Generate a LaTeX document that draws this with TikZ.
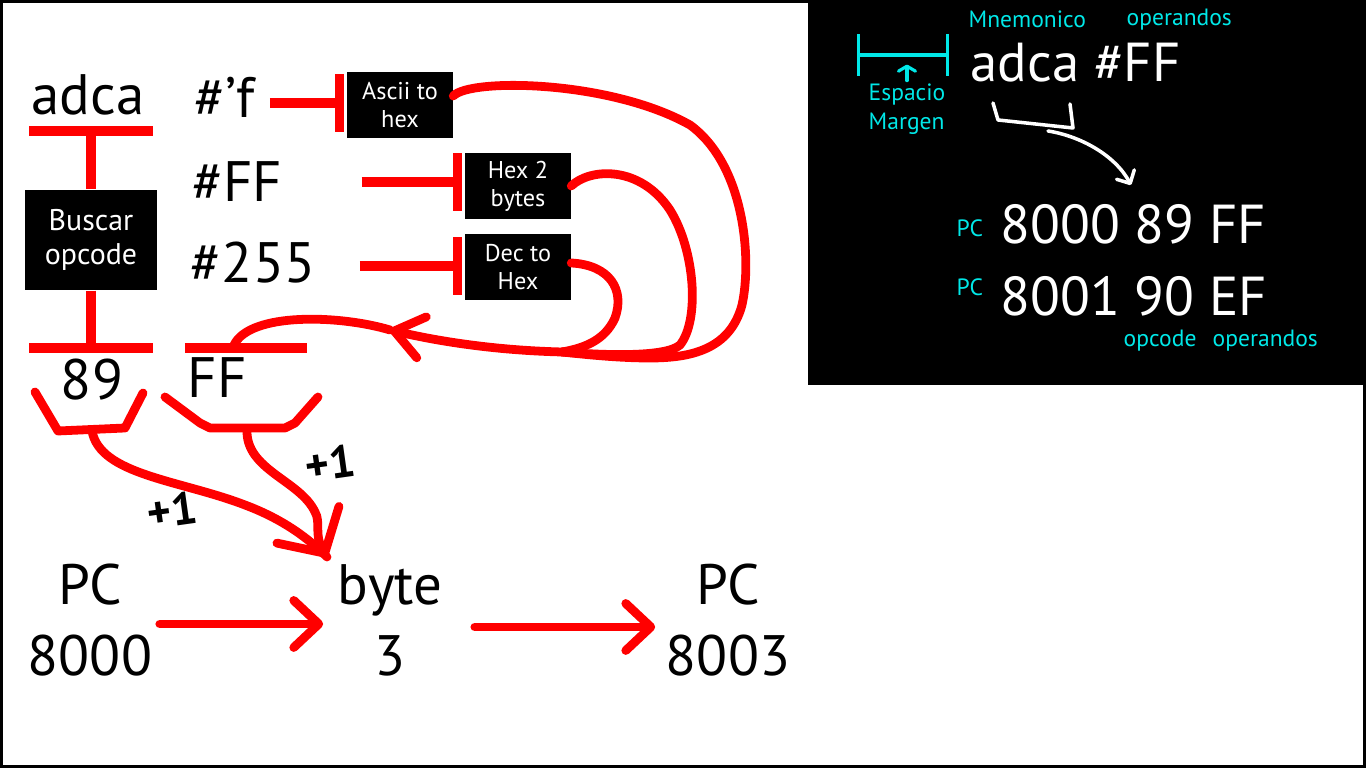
\documentclass[tikz,border=0pt]{standalone}
\usepackage{fontspec}
\setmainfont{PT Sans}
\usepackage{tikz}
\usetikzlibrary{positioning, arrows.meta}
\definecolor{aqua}{RGB}{0,232,232}

\begin{document}
\begin{tikzpicture}[
        x=0.01cm, y=-0.01cm,
        big/.style={font=\fontsize{16.2}{20.2}\selectfont, inner sep=0pt},
        wbig/.style={font=\fontsize{15.6}{18}\selectfont, inner sep=0pt, text=white},
        lbl/.style={font=\fontsize{6.7}{8}\selectfont, text=aqua, inner sep=0pt},
        box/.style={rectangle, fill=black, text=white, align=center, inner sep=1pt},
        convbox/.style={box, minimum width=1.05cm, minimum height=0.66cm, font=\fontsize{6.9}{8}\selectfont},
        redline/.style={red, line width=2.8pt},
        curve/.style={red, line width=2.5pt, line cap=round, line join=round},
        tbar/.style={red, line width=2.8pt, -{Bar[width=0.58cm, line width=2.4pt]}},
        head/.style={-{Straight Barb[length=0.25cm, width=0.47cm, round]}},
        plus/.style={font=\bfseries\fontsize{13}{14}\selectfont, inner sep=0pt},
        wline/.style={white, line width=1pt, line cap=round, line join=round},
        aline/.style={aqua, line width=0.9pt, line cap=round},
    ]
        \useasboundingbox (0,0) rectangle (1366,768);
        \draw[line width=0.85pt] (1.5,1.5) rectangle (1364.5,766.5);

        % Mnemonic and operands
        \node[big, anchor=base] (mnem) at (88,115) {adca};
        \node[big, anchor=base] (opf) at (225,118) {\#’f};
        \node[big, anchor=base] (opff) at (237,202) {\#FF};
        \node[big, anchor=base] (op255) at (253,283) {\#255};

        % Boxes
        \node[box, minimum width=1.31cm, minimum height=1cm, font=\fontsize{8.5}{9.7}\selectfont] (buscar) at (91,240) {Buscar\\opcode};
        \node[convbox] (ascii) at (400,105) {Ascii to\\hex};
        \node[convbox] (hex2) at (518,186) {Hex 2\\bytes};
        \node[convbox] (dec) at (518,267) {Dec to\\Hex};

        % Results
        \node[big, anchor=base] (op89) at (92,400) {89};
        \node[big, anchor=base] (opFF) at (217,398) {FF};
        \coordinate (mnembar) at (91,126);
        \coordinate (bar89) at (91,353);
        \coordinate (barFF) at (246,348);

        \draw[redline, {Bar[width=1.23cm]}-] (mnembar) -- (buscar.north);
        \draw[redline, -{Bar[width=1.23cm]}] (buscar.south) -- (bar89);
        \draw[redline] ([xshift=-0.61cm]barFF) -- ([xshift=0.61cm]barFF);

        % Operand conversions
        \draw[tbar] ([xshift=0.14cm, yshift=-0.05cm]opf.east) -- ([xshift=-0.03cm, yshift=-0.05cm]ascii.west |- opf.east);
        \draw[tbar] ([xshift=0.79cm]opff.east) -- ([xshift=-0.03cm]hex2.west |- opff.east);
        \draw[tbar] ([xshift=0.44cm, yshift=-0.03cm]op255.east) -- ([xshift=-0.03cm, yshift=-0.03cm]dec.west |- op255.east);

        % Back to the operand
        \coordinate (merge) at (562,352);
        \coordinate (rettip) at (390,330);
        \draw[curve] ([yshift=0.09cm]ascii.east) .. controls (470,78) and (610,80) .. (690,125)
            .. controls (745,165) and (752,260) .. (742,305)
            .. controls (730,350) and (690,358) .. (650,358)
            .. controls (620,358) and (590,355) .. (merge);
        \draw[curve] (hex2.east) .. controls (590,168) and (640,165) .. (670,210)
            .. controls (695,250) and (700,320) .. (680,345)
            .. controls (665,358) and (600,355) .. (merge);
        \draw[curve] ([yshift=0.04cm]dec.east) .. controls (610,265) and (625,290) .. (615,318)
            .. controls (605,340) and (585,348) .. (merge);
        \draw[curve, -{Straight Barb[length=0.28cm, width=0.42cm, round]}] (merge) .. controls (480,350) and (420,337) .. (rettip);
        \draw[curve] (rettip) .. controls (340,315) and (250,312) .. (234,345);

        % Byte count
        \draw[curve] (35,392) -- (58,431) -- (125,428) -- (143,393);
        \draw[curve] (165,397) -- (200,423) -- (210,428) -- (285,428) -- (295,423) -- (318,397);
        \coordinate (out89) at (92,431);
        \coordinate (outFF) at (247,429);
        \coordinate (bytein) at (327,557);
        \draw[curve] (out89) .. controls (100,475) and (180,480) .. (245,505)
            .. controls (285,520) and (310,540) .. (bytein);
        \draw[curve, -{Straight Barb[length=0.33cm, width=0.72cm, round]}] (outFF) .. controls (245,470) and (300,480) .. (315,512)
            .. controls (321,522) and (314,535) .. (bytein);
        \node[plus, rotate=8] (plusA) at (172,510) {+1};
        \node[plus, rotate=8] (plusB) at (330,463) {+1};

        % Program counter
        \node[big, align=center] (pcold) at (90,620) {PC\\8000};
        \node[big, align=center] (byte) at (390,620) {byte\\3};
        \node[big, align=center] (pcnew) at (728,620) {PC\\8003};
        \draw[curve, head, shorten <=0.07cm, shorten >=0.14cm] ([yshift=-0.04cm]pcold.east) -- ([yshift=-0.04cm]byte.west);
        \draw[curve, head, shorten <=0.32cm, shorten >=0.1cm] ([yshift=-0.07cm]byte.east) -- ([yshift=-0.07cm]pcnew.west);

        % Panel
        \fill[black] (808,0) rectangle (1366,385);
        \node[lbl, anchor=base west] (mnemlbl) at (968,28) {Mnemonico};
        \node[lbl, anchor=base west] (oplbl) at (1126,26) {operandos};
        \node[wbig, anchor=base west] (instr) at (970,82) {adca \#FF};
        \node[lbl, anchor=base west] (esp) at (868,101) {Espacio};
        \node[lbl, anchor=base west] (marg) at (868,130) {Margen};
        \draw[aline, {Bar[width=0.42cm]}-{Bar[width=0.42cm]}] (857,55) -- (949,55);
        \draw[aline, -{Straight Barb[length=0.05cm, width=0.17cm, round]}] ([yshift=0.03cm]esp.north) -- ([yshift=0.19cm]esp.north);
        \draw[wline] (993,103) -- (998,120) -- (1073,128) -- (1070,104);
        \draw[wline, -{Straight Barb[length=0.1cm, width=0.2cm, round]}] (1048,131) .. controls (1080,136) and (1115,155) .. (1131,185);
        \node[lbl, anchor=base west] (pcA) at (956,237) {PC};
        \node[wbig, anchor=base west] (lineA) at (1000,244) {8000 89 FF};
        \node[lbl, anchor=base west] (pcB) at (956,296) {PC};
        \node[wbig, anchor=base west] (lineB) at (1000,316) {8001 90 EF};
        \node[lbl, anchor=base west] (opclbl) at (1123,347) {opcode};
        \node[lbl, anchor=base west] (oprlbl) at (1212,347) {operandos};

    \end{tikzpicture}
\end{document}
